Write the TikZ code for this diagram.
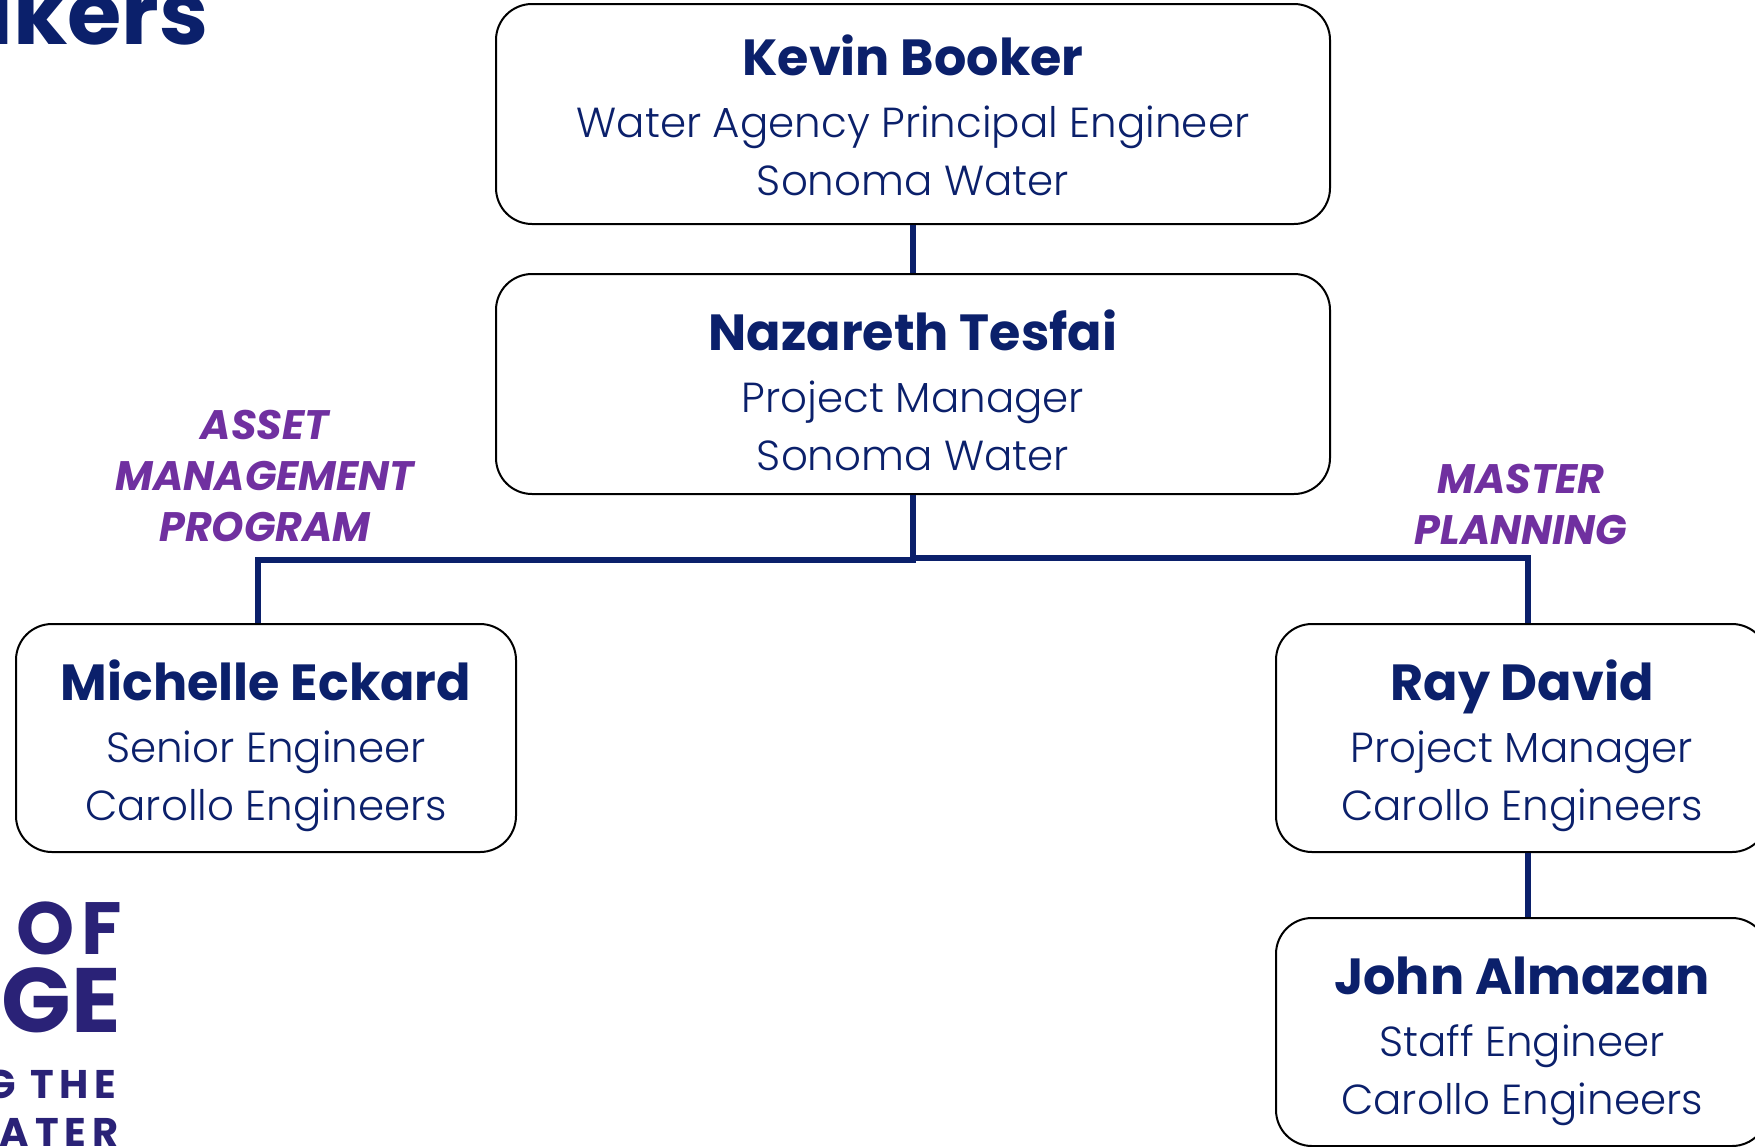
\documentclass[tikz,border=0pt]{standalone}
\usepackage{fontspec}
\setmainfont{Poppins}
\newfontfamily\lightfont{Poppins Light}
\newfontfamily\logowide[LetterSpace=15]{Poppins}
\definecolor{navy}{HTML}{0B206B}
\definecolor{plum}{HTML}{7030A0}
\definecolor{logoblue}{HTML}{2A2277}
\newcommand{\namefont}{\fontsize{25.4}{29}\selectfont\bfseries}
\newcommand{\rolefont}{\lightfont\fontsize{21}{29}\selectfont}
\newcommand{\personlines}[4][31.5pt]{{\namefont\rule{0pt}{#1}#2}\\[2pt]{\rolefont #3}\\{\rolefont\rule[-8.7pt]{0pt}{8.7pt}#4}}
\begin{document}
\begin{tikzpicture}[
    x=0.5pt, y=-0.5pt,
    person/.style={draw=black, line width=1pt, rounded corners=18pt, inner sep=0pt, align=center, text=navy, font=\fontsize{21}{29}\selectfont},
    wide/.style={person, minimum width=417pt, minimum height=110pt},
    small/.style={person, minimum width=250pt, minimum height=114pt},
    side/.style={person, minimum width=246pt, minimum height=114pt},
    track/.style={text=plum, align=center, font=\fontsize{20.6}{25.5}\selectfont\bfseries\itshape},
    link/.style={draw=navy, line width=2.75pt},
    logo/.style={text=logoblue, anchor=base east, inner sep=0pt}
]
    \clip (0, 0) rectangle (1755, 1146);

    % Title
    \node[text=navy, anchor=base east, inner sep=0pt, font=\fontsize{44}{44}\selectfont\bfseries] (title) at (209, 44) {akers};

    % People
    \node[wide] (kevin) at (913, 114) {\personlines[29.8pt]{Kevin Booker}{Water Agency Principal Engineer}{Sonoma Water}};
    \node[wide] (nazareth) at (913, 384) {\personlines[34.9pt]{Nazareth Tesfai}{Project Manager}{Sonoma Water}};
    \node[small] (michelle) at (266, 738) {\personlines{Michelle Eckard}{Senior Engineer}{Carollo Engineers}};
    \node[side] (ray) at (1522, 738) {\personlines{Ray David}{Project Manager}{Carollo Engineers}};
    \node[side] (john) at (1522, 1032) {\personlines{John Almazan}{Staff Engineer}{Carollo Engineers}};

    % Tracks
    \node[track] (asset) at (265, 476) {ASSET\\MANAGEMENT\\PROGRAM};
    \node[track] (master) at (1521, 504) {MASTER\\PLANNING};

    % Links
    \coordinate (leftdrop) at (258, 560);
    \coordinate (rightdrop) at (1528, 558);
    \draw[link] (kevin) -- (nazareth);
    \draw[link] (nazareth.south) |- (leftdrop) -- (leftdrop |- michelle.north);
    \draw[link] (nazareth.south) |- (rightdrop) -- (rightdrop |- ray.north);
    \draw[link] (rightdrop |- ray.south) -- (rightdrop |- john.north);

    % Logo
    \node[logo, font=\fontsize{37}{37}\selectfont\bfseries] (logoof) at (122, 954) {O\kern3pt F};
    \node[logo, font=\fontsize{45.7}{46}\selectfont\bfseries] (logoge) at (121, 1032) {GE};
    \node[logo, font=\logowide\fontsize{20}{20}\selectfont\bfseries] (logothe) at (117, 1098) {G THE};
    \node[logo, font=\logowide\fontsize{20}{20}\selectfont\bfseries] (logowater) at (119, 1146) {WATER};
\end{tikzpicture}
\end{document}
